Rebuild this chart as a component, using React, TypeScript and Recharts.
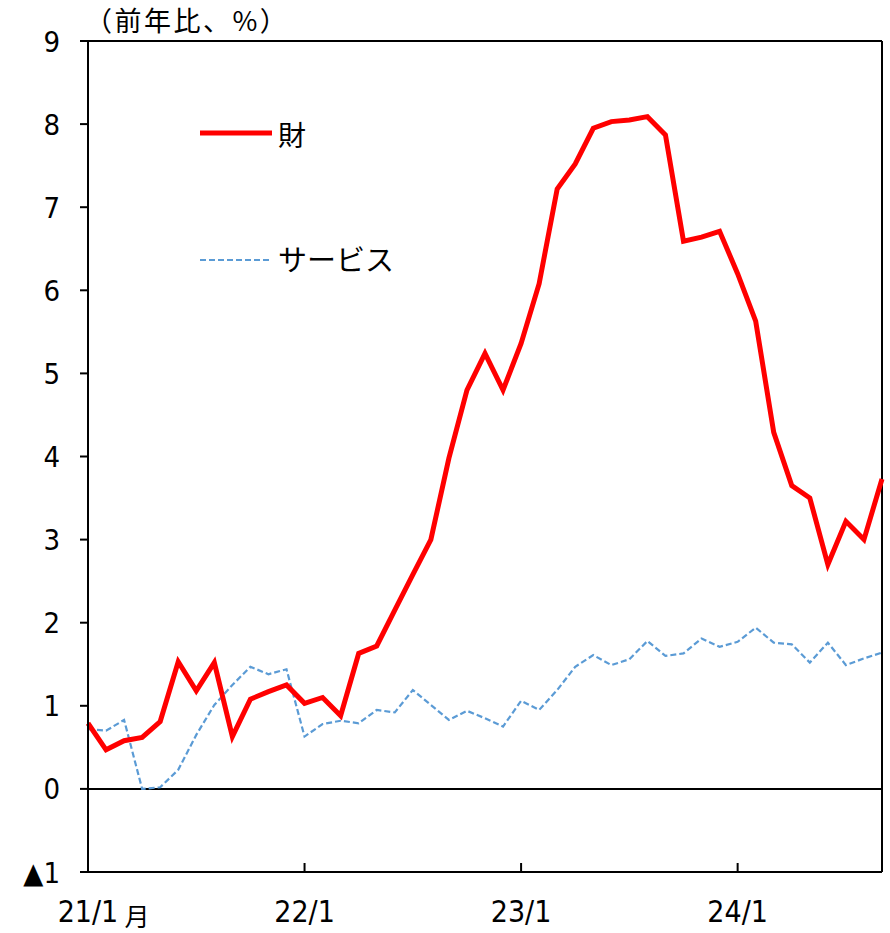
import React from 'react';
import { LineChart, Line, XAxis, YAxis, ReferenceLine, Customized } from 'recharts';

const months = [
  '21/1','21/2','21/3','21/4','21/5','21/6','21/7','21/8','21/9','21/10','21/11','21/12',
  '22/1','22/2','22/3','22/4','22/5','22/6','22/7','22/8','22/9','22/10','22/11','22/12',
  '23/1','23/2','23/3','23/4','23/5','23/6','23/7','23/8','23/9','23/10','23/11','23/12',
  '24/1','24/2','24/3','24/4','24/5','24/6','24/7','24/8','24/9',
];

const goods = [
  0.79, 0.47, 0.58, 0.62, 0.81, 1.53, 1.18, 1.52, 0.63, 1.08, 1.17, 1.25,
  1.03, 1.10, 0.88, 1.63, 1.72, 2.15, 2.58, 3.00, 3.98, 4.80, 5.24, 4.80,
  5.36, 6.08, 7.22, 7.52, 7.95, 8.03, 8.05, 8.09, 7.87, 6.59, 6.64, 6.71,
  6.20, 5.63, 4.29, 3.65, 3.50, 2.70, 3.22, 3.00, 3.73,
];

const services = [
  0.72, 0.70, 0.83, 0.00, 0.02, 0.23, 0.65, 1.01, 1.25, 1.47, 1.38, 1.44,
  0.63, 0.78, 0.82, 0.79, 0.95, 0.92, 1.19, 1.01, 0.83, 0.94, 0.85, 0.75,
  1.06, 0.95, 1.19, 1.47, 1.61, 1.49, 1.56, 1.78, 1.60, 1.63, 1.81, 1.71,
  1.77, 1.94, 1.76, 1.74, 1.52, 1.76, 1.49, 1.57, 1.64,
];

const xTickLabels = ['21/1', '22/1', '23/1', '24/1'];
const yTicks = [-1, 0, 1, 2, 3, 4, 5, 6, 7, 8, 9];
const titleText = '（前年比、%）';
const monthUnit = '月';
const goodsName = '財';
const servicesName = 'サービス';

const data = months.map((m, i) => ({ month: m, goods: goods[i], services: services[i] }));

const NUM_FONT = "'DejaVu Sans Condensed', 'DejaVu Sans', sans-serif";
const JP_FONT = "'Noto Sans CJK JP', sans-serif";
const RED = '#FF0000';
const BLUE = '#5B9BD5';

const XTick = (props: any) => {
  const { x, y, payload } = props;
  return (
    <g>
      <line x1={x} y1={y} x2={x} y2={y - 9} stroke="#000" strokeWidth={2} />
      <text x={x} y={y + 50} textAnchor="middle" fontFamily={NUM_FONT} fontSize={30} fill="#000">
        {payload.value}
      </text>
      {payload.value === xTickLabels[0] && (
        <text x={x + 49} y={y + 54} textAnchor="middle" fontFamily={JP_FONT} fontSize={25} fill="#000">
          {monthUnit}
        </text>
      )}
    </g>
  );
};

const YTick = (props: any) => {
  const { x, y, payload } = props;
  const v = payload.value;
  const label = v < 0 ? `▲${Math.abs(v)}` : `${v}`;
  return (
    <text x={x} y={y + 10.5} textAnchor="end" fontFamily={NUM_FONT} fontSize={29} fill="#000">
      {label}
    </text>
  );
};

const Overlay = () => (
  <g>
    <text x={85} y={31} fontFamily={JP_FONT} fontSize={27} letterSpacing={2.5} fill="#000">{titleText}</text>
    <line x1={200} y1={133} x2={272} y2={133} stroke={RED} strokeWidth={5} />
    <text x={278} y={146} fontFamily={JP_FONT} fontSize={28} fill="#000">{goodsName}</text>
    <line x1={200} y1={260} x2={272} y2={260} stroke={BLUE} strokeWidth={2.2} strokeDasharray="6 3" />
    <text x={278} y={271} fontFamily={JP_FONT} fontSize={29} fill="#000">{servicesName}</text>
  </g>
);

export default function App() {
  return (
    <div style={{ position: 'absolute', left: 0, top: 0, background: '#fff' }}>
      <LineChart
        width={890}
        height={933}
        data={data}
        margin={{ top: 41, right: 8, left: 0, bottom: 0 }}
      >
        <XAxis
          dataKey="month"
          ticks={xTickLabels}
          interval={0}
          tickSize={0}
          tickMargin={0}
          tickLine={false}
          tick={<XTick />}
          height={61}
          axisLine={{ stroke: '#000', strokeWidth: 2 }}
          padding={{ left: 0, right: 0 }}
        />
        <YAxis
          type="number"
          domain={[-1, 9]}
          ticks={yTicks}
          interval={0}
          width={88}
          tickSize={8}
          tickMargin={20}
          tickLine={{ stroke: '#000', strokeWidth: 2 }}
          axisLine={{ stroke: '#000', strokeWidth: 2 }}
          tick={<YTick />}
        />
        <ReferenceLine y={9} stroke="#000" strokeWidth={2} />
        <ReferenceLine y={0} stroke="#000" strokeWidth={2} />
        <ReferenceLine x={months[months.length - 1]} stroke="#000" strokeWidth={2} />
        <Line
          type="linear"
          dataKey="services"
          stroke={BLUE}
          strokeWidth={2.2}
          strokeDasharray="6 3"
          dot={false}
          isAnimationActive={false}
        />
        <Line
          type="linear"
          dataKey="goods"
          stroke={RED}
          strokeWidth={5}
          dot={false}
          isAnimationActive={false}
        />
        <Customized component={<Overlay />} />
      </LineChart>
    </div>
  );
}
